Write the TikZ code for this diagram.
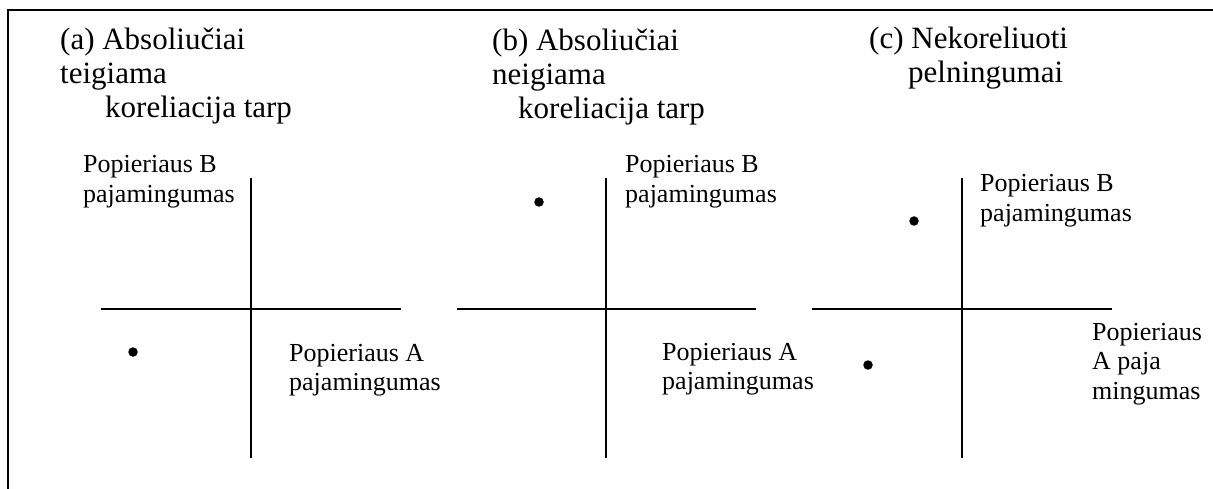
\documentclass[tikz,border=0pt]{standalone}
\usepackage{fontspec}
\setmainfont{Liberation Serif}
\newcommand{\stk}[1]{\vtop{\lineskiplimit=-100pt\relax #1}}
\begin{document}
\begin{tikzpicture}[x=1pt,y=-1pt,
  axis/.style={line width=1.8pt},
  frame/.style={line width=2pt},
  lbl/.style={anchor=base west,inner sep=0pt,font=\fontsize{26}{29.5}\selectfont},
  ttl/.style={anchor=base west,inner sep=0pt,font=\fontsize{31}{34}\selectfont},
  dot/.style={circle,fill=black,inner sep=0pt,minimum size=9.5pt}]
\useasboundingbox (0,0) rectangle (1213,489);
% frame
\coordinate (fBL) at (8,489);
\coordinate (fTL) at (8,10);
\coordinate (fTR) at (1213,10);
\draw[frame] (fBL) -- (fTL) -- (fTR);
% titles
\node[ttl] (ta) at (60,50) {\stk{\hbox{(a) Absoliučiai}\hbox{teigiama}\hbox{\kern45pt koreliacija tarp}}};
\node[ttl] (tb) at (492,51) {\stk{\hbox{(b) Absoliučiai}\hbox{neigiama}\hbox{\kern26pt koreliacija tarp}}};
\node[ttl] (tc) at (869,49) {\stk{\hbox{(c) Nekoreliuoti}\hbox{\kern39pt pelningumai}}};
% panel a
\coordinate (aT) at (251,178); \coordinate (aB) at (251,458);
\coordinate (aL) at (101,309); \coordinate (aR) at (401,309);
\draw[axis] (aT) -- (aB);
\draw[axis] (aL) -- (aR);
\node[dot] (da) at (133,352) {};
\node[lbl] (aYl) at (83,173) {\stk{\hbox{Popieriaus B}\hbox{pajamingumas}}};
\node[lbl] (aXl) at (289,361) {\stk{\hbox{Popieriaus A}\hbox{pajamingumas}}};
% panel b
\coordinate (bT) at (606,178); \coordinate (bB) at (606,458);
\coordinate (bL) at (457,309); \coordinate (bR) at (756,309);
\draw[axis] (bT) -- (bB);
\draw[axis] (bL) -- (bR);
\node[dot] (db) at (539,202) {};
\node[lbl] (bYl) at (625,173) {\stk{\hbox{Popieriaus B}\hbox{pajamingumas}}};
\node[lbl] (bXl) at (662,360) {\stk{\hbox{Popieriaus A}\hbox{pajamingumas}}};
% panel c
\coordinate (cT) at (962,178); \coordinate (cB) at (962,458);
\coordinate (cL) at (812,309); \coordinate (cR) at (1112,309);
\draw[axis] (cT) -- (cB);
\draw[axis] (cL) -- (cR);
\node[dot] (dc1) at (914,221) {};
\node[dot] (dc2) at (868,365) {};
\node[lbl] (cYl) at (980,192) {\stk{\hbox{Popieriaus B}\hbox{pajamingumas}}};
\node[lbl] (cXl) at (1092,340) {\stk{\hbox{Popieriaus}\hbox{A paja}\hbox{mingumas}}};
\end{tikzpicture}
\end{document}
